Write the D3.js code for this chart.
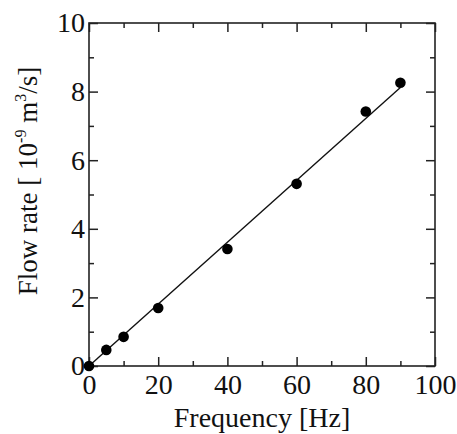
<!DOCTYPE html>
<html>
<head>
<meta charset="utf-8">
<script src="https://cdn.jsdelivr.net/npm/d3@7"></script>
<style>
  html, body { margin: 0; padding: 0; background: #fff; }
  svg { display: block; }
  text { font-family: "Liberation Serif", "Times New Roman", serif; fill: #111; }
</style>
</head>
<body>
<svg id="chart" width="457" height="434"></svg>
<script>
// Data
const frequency = [0, 5, 10, 20, 40, 60, 80, 90];
const flowRate = [0.0, 0.47, 0.85, 1.69, 3.41, 5.31, 7.42, 8.26];
const fitX = [0, 90];
const fitY = [0.0, 8.12];
const xMajorTicks = [0, 20, 40, 60, 80, 100];
const xMinorTicks = [10, 30, 50, 70, 90];
const yMajorTicks = [0, 2, 4, 6, 8, 10];
const yMinorTicks = [1, 3, 5, 7, 9];

const svg = d3.select("#chart");
const margin = { left: 89, right: 22, top: 23, bottom: 68 };
const W = 457, H = 434;
const x = d3.scaleLinear().domain([0, 100]).range([margin.left, W - margin.right]);
const y = d3.scaleLinear().domain([0, 10]).range([H - margin.bottom, margin.top]);

const stroke = "#222";
const fontSize = 28;

function styleAxis(g) {
  g.select(".domain").remove();
  g.selectAll(".tick line").attr("stroke", stroke).attr("stroke-width", 1.5);
  g.selectAll("text").attr("font-size", fontSize).attr("font-family", '"Liberation Serif", serif').attr("fill", "#111");
}

// bottom
svg.append("g").attr("transform", `translate(0,${y(0)})`)
  .call(d3.axisBottom(x).tickValues(xMajorTicks).tickFormat(d3.format("d")).tickSizeInner(-9).tickSizeOuter(0).tickPadding(8))
  .call(styleAxis);
svg.append("g").attr("transform", `translate(0,${y(0)})`)
  .call(d3.axisBottom(x).tickValues(xMinorTicks).tickFormat("").tickSizeInner(-5).tickSizeOuter(0))
  .call(styleAxis);
// top
svg.append("g").attr("transform", `translate(0,${y(10)})`)
  .call(d3.axisTop(x).tickValues(xMajorTicks).tickFormat("").tickSizeInner(-9).tickSizeOuter(0))
  .call(styleAxis);
svg.append("g").attr("transform", `translate(0,${y(10)})`)
  .call(d3.axisTop(x).tickValues(xMinorTicks).tickFormat("").tickSizeInner(-5).tickSizeOuter(0))
  .call(styleAxis);
// left
svg.append("g").attr("transform", `translate(${x(0)},0)`)
  .call(d3.axisLeft(y).tickValues(yMajorTicks).tickFormat(d3.format("d")).tickSizeInner(-9).tickSizeOuter(0).tickPadding(4))
  .call(styleAxis);
svg.append("g").attr("transform", `translate(${x(0)},0)`)
  .call(d3.axisLeft(y).tickValues(yMinorTicks).tickFormat("").tickSizeInner(-5).tickSizeOuter(0))
  .call(styleAxis);
// right
svg.append("g").attr("transform", `translate(${x(100)},0)`)
  .call(d3.axisRight(y).tickValues(yMajorTicks).tickFormat("").tickSizeInner(-9).tickSizeOuter(0))
  .call(styleAxis);
svg.append("g").attr("transform", `translate(${x(100)},0)`)
  .call(d3.axisRight(y).tickValues(yMinorTicks).tickFormat("").tickSizeInner(-5).tickSizeOuter(0))
  .call(styleAxis);

// frame
svg.append("rect")
  .attr("x", x(0)).attr("y", y(10))
  .attr("width", x(100) - x(0)).attr("height", y(0) - y(10))
  .attr("fill", "none").attr("stroke", stroke).attr("stroke-width", 1.6);

// fit line
const fitData = fitX.map((d, i) => [d, fitY[i]]);
svg.append("path")
  .datum(fitData)
  .attr("d", d3.line().x(d => x(d[0])).y(d => y(d[1])))
  .attr("fill", "none").attr("stroke", "#111").attr("stroke-width", 1.4);

// points
svg.append("g").selectAll("circle")
  .data(frequency.map((d, i) => [d, flowRate[i]]))
  .join("circle")
  .attr("cx", d => x(d[0])).attr("cy", d => y(d[1]))
  .attr("r", 5.3).attr("fill", "#000");

// x title
svg.append("text")
  .attr("x", (x(0) + x(100)) / 2).attr("y", 427)
  .attr("text-anchor", "middle").attr("font-size", fontSize)
  .text("Frequency [Hz]");

// y title
const yt = svg.append("text")
  .attr("transform", `translate(37,181) rotate(-90)`)
  .attr("text-anchor", "middle").attr("font-size", 27);
yt.append("tspan").text("Flow rate [ 10");
yt.append("tspan").attr("font-size", 16).attr("dy", -11).text("-9");
yt.append("tspan").attr("dy", 11).text(" m");
yt.append("tspan").attr("font-size", 16).attr("dy", -11).text("3");
yt.append("tspan").attr("dy", 11).text("/s]");
</script>
</body>
</html>
